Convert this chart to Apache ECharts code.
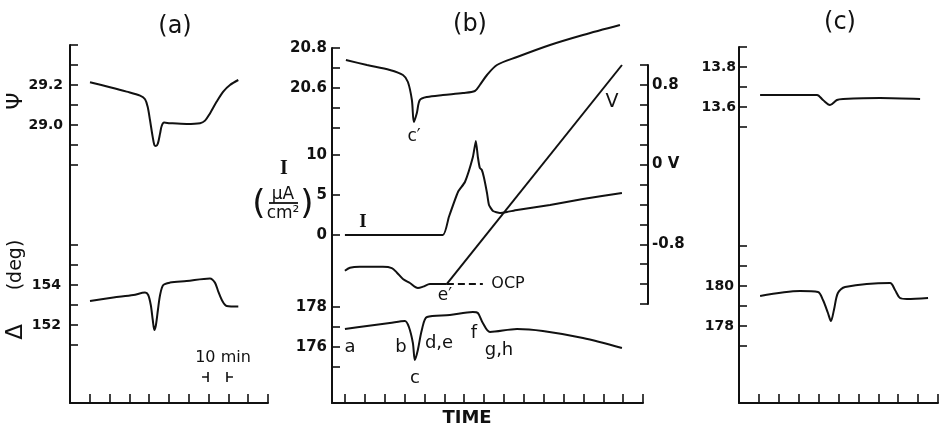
<html>

<head>
  <script src="https://cdn.jsdelivr.net/npm/echarts@6/dist/echarts.min.js"></script>
</head>

<body style="margin:0;background:#fff">
  <div id="main" style="width: 939px;height:428px;"></div>
  <script>
    // time in minutes, one x tick = 10 min
    // (a)
    var aPsiT = [10.1, 20.2, 28.6, 35.4, 37.9, 39.2, 40.4, 41.6, 42.6, 43.4, 44.4, 45.5, 46.3, 47.5, 50.5, 58.9, 65.7, 68.2, 70.7, 74.1, 77.4, 80.8, 85.0];
    var aPsi = [29.214, 29.189, 29.167, 29.147, 29.129, 29.092, 29.025, 28.95, 28.9, 28.895, 28.908, 28.958, 28.995, 29.012, 29.009, 29.005, 29.009, 29.022, 29.058, 29.117, 29.167, 29.2, 29.225];
    var aDelT = [10.1, 21.9, 32.0, 37.9, 39.5, 40.8, 41.8, 42.6, 43.4, 44.4, 45.5, 47.1, 50.5, 58.9, 70.7, 73.2, 74.9, 77.1, 79.1, 85.0];
    var aDel = [153.2, 153.37, 153.5, 153.62, 153.5, 153.0, 152.25, 151.75, 152.0, 152.75, 153.5, 154.0, 154.12, 154.2, 154.33, 154.12, 153.67, 153.17, 152.95, 152.92];
    var aPsiLabels = ['29.2', '29.0'];
    var aDelLabels = ['154', '152'];
    var scaleT = [69.7, 79.3];
    var scaleY = 149.4;

    // (b)
    var bTicks = [0, 10, 20, 30, 40, 50, 60, 70, 80, 90, 100, 110, 120, 130, 140, 150];
    var bPsiT = [0.5, 11.1, 22.6, 29.2, 31.7, 33.7, 34.7, 36.2, 37.7, 41.3, 49.3, 59.4, 65.4, 67.9, 71.5, 76.5, 86.6, 103.2, 119.8, 138.4];
    var bPsi = [20.74, 20.715, 20.69, 20.665, 20.63, 20.54, 20.43, 20.475, 20.54, 20.555, 20.565, 20.575, 20.585, 20.615, 20.665, 20.715, 20.755, 20.815, 20.865, 20.915];
    var bCurT = [0, 49.3, 52.3, 56.9, 60.4, 64.4, 65.9, 66.9, 67.9, 68.9, 69.9, 71.5, 72.5, 74.5, 78.0, 81.5, 86.6, 103.2, 119.8, 139.4];
    var bCur = [0, 0, 2.25, 5.375, 6.625, 9.75, 11.75, 9.75, 8.375, 8.125, 7.25, 5.25, 3.75, 3.0, 2.75, 2.875, 3.125, 3.75, 4.5, 5.25];
    var bOcpT = [0, 2.5, 7.5, 19.1, 23.6, 26.2, 29.2, 32.7, 36.7, 39.3, 42.8, 51.3];
    var bOcp = [-1.066, -1.036, -1.026, -1.026, -1.039, -1.086, -1.149, -1.189, -1.239, -1.226, -1.199, -1.199];
    var bOcpDashT = [51.3, 69.4];
    var bOcpDash = [-1.199, -1.199];
    var bVT = [51.3, 139.4];
    var bV = [-1.199, 1.0];
    var bDelT = [0, 11.1, 22.6, 30.2, 32.2, 34.2, 35.2, 36.7, 38.7, 41.3, 52.8, 64.4, 66.9, 69.4, 73.0, 86.6, 99.6, 119.8, 139.4];
    var bDel = [176.9, 177.05, 177.2, 177.3, 177.0, 176.2, 175.35, 175.85, 176.85, 177.5, 177.6, 177.75, 177.7, 177.2, 176.75, 176.9, 176.8, 176.45, 175.95];
    var bPsiLabels = ['20.8', '20.6'];
    var bCurLabels = ['10', '5', '0'];
    var bVLabels = ['0.8', '0 V', '-0.8'];
    var bDelLabels = ['178', '176'];

    // (c)
    var cPsiT = [10.6, 39.2, 42.2, 45.7, 49.2, 52.3, 70.9, 91.0];
    var cPsi = [13.66, 13.66, 13.635, 13.61, 13.635, 13.64, 13.645, 13.64];
    var cDelT = [10.6, 30.7, 39.7, 42.2, 44.7, 46.2, 47.7, 49.7, 53.3, 75.9, 78.4, 80.9, 84.4, 95.0];
    var cDel = [179.5, 179.75, 179.7, 179.3, 178.65, 178.25, 178.8, 179.65, 179.95, 180.15, 179.8, 179.4, 179.35, 179.4];
    var cPsiLabels = ['13.8', '13.6'];
    var cDelLabels = ['180', '178'];

    var ink = '#111';
    var font = 'DejaVu Sans';
    var grids = [], xAxes = [], yAxes = [], series = [];

    function pickLabel(labels) {
      return function (v) {
        for (var k = 0; k < labels.length; k++) {
          if (Math.abs(parseFloat(labels[k]) - v) < 1e-6) return labels[k];
        }
        return '';
      };
    }

    function frame(box, xr, step, ticks) {
      var i = grids.length;
      grids.push({ left: box[0], top: box[1], width: box[2], height: box[3], containLabel: false, outerBoundsMode: 'none' });
      var tick = { show: true, inside: true, length: 9, lineStyle: { color: ink, width: 1.6 } };
      if (ticks) tick.customValues = ticks;
      xAxes.push({
        type: 'value', gridIndex: i, min: xr[0], max: xr[1], interval: step,
        axisLine: { show: true, onZero: false, lineStyle: { color: ink, width: 2 } },
        axisTick: tick, axisLabel: { show: false }, splitLine: { show: false }
      });
      yAxes.push({
        type: 'value', gridIndex: i, min: 0, max: 1,
        axisLine: { show: true, onZero: false, lineStyle: { color: ink, width: 2 } },
        axisTick: { show: false }, axisLabel: { show: false }, splitLine: { show: false }
      });
      return i;
    }

    function trace(box, xr, yr, step, labels, margin, size, right) {
      var i = grids.length;
      grids.push({ left: box[0], top: box[1], width: box[2], height: box[3], containLabel: false, outerBoundsMode: 'none' });
      xAxes.push({ type: 'value', gridIndex: i, min: xr[0], max: xr[1], show: false });
      yAxes.push({
        type: 'value', gridIndex: i, min: yr[0], max: yr[1], interval: step,
        position: right ? 'right' : 'left',
        axisLine: { show: !!right, onZero: false, lineStyle: { color: ink, width: 2 } },
        axisTick: { show: true, inside: true, length: 8, lineStyle: { color: ink, width: 1.6 } },
        axisLabel: {
          show: true, margin: margin, color: ink, fontFamily: font, fontSize: size, fontWeight: 'bold',
          formatter: pickLabel(labels)
        },
        splitLine: { show: false }
      });
      return i;
    }

    function curve(gi, xs, ys, extra) {
      series.push(Object.assign({
        type: 'line', xAxisIndex: gi, yAxisIndex: gi,
        data: xs.map(function (x, k) { return [x, ys[k]]; }),
        symbol: 'none', smooth: 0.3, clip: false, silent: true,
        lineStyle: { color: ink, width: 2 }
      }, extra || {}));
    }

    // panel (a)
    frame([70, 45, 198, 358], [0, 100], 10);
    var gaPsi = trace([70, 45, 198, 120], [0, 100], [28.8, 29.4], 0.1, aPsiLabels, 7, 14);
    var gaDel = trace([70, 245, 198, 100], [0, 100], [151, 156], 1, aDelLabels, 9, 14);
    curve(gaPsi, aPsiT, aPsi);
    curve(gaDel, aDelT, aDel);
    var thin = { smooth: false, lineStyle: { color: ink, width: 1.6 } };
    curve(gaDel, [scaleT[0] - 3, scaleT[0]], [scaleY, scaleY], thin);
    curve(gaDel, [scaleT[0], scaleT[0]], [scaleY + 0.25, scaleY - 0.25], thin);
    curve(gaDel, [scaleT[1], scaleT[1] + 3], [scaleY, scaleY], thin);
    curve(gaDel, [scaleT[1], scaleT[1]], [scaleY + 0.25, scaleY - 0.25], thin);

    // panel (b)
    frame([332, 48, 311, 355], [-6.5, 150], 10, bTicks);
    var gbPsi = trace([332, 48, 311, 80], [-6.5, 150], [20.4, 20.8], 0.1, bPsiLabels, 5, 15);
    var gbCur = trace([332, 155, 311, 80], [-6.5, 150], [0, 10], 5, bCurLabels, 5, 15);
    var gbV = trace([332, 65, 316, 239], [-6.5, 152.5], [-1.4, 1.0], 0.2, bVLabels, 4, 15, true);
    var gbDel = trace([332, 307, 311, 60], [-6.5, 150], [175, 178], 1, bDelLabels, 5, 15);
    curve(gbPsi, bPsiT, bPsi);
    curve(gbCur, bCurT, bCur, { smooth: 0.15 });
    curve(gbV, bOcpT, bOcp);
    curve(gbV, bOcpDashT, bOcpDash, { smooth: false, lineStyle: { color: ink, width: 1.8, type: [7, 4] } });
    curve(gbV, bVT, bV, { smooth: false });
    curve(gbDel, bDelT, bDel);

    // panel (c)
    frame([739, 47, 199, 356], [0, 100], 10);
    var gcPsi = trace([739, 47, 199, 80], [0, 100], [13.5, 13.9], 0.1, cPsiLabels, 3, 14);
    var gcDel = trace([739, 246, 199, 100], [0, 100], [177, 182], 1, cDelLabels, 5, 14);
    curve(gcPsi, cPsiT, cPsi);
    curve(gcDel, cDelT, cDel);

    function txt(s, x, y, size, rot, fam, weight) {
      var el = {
        type: 'text', x: x, y: y, silent: true,
        style: { text: s, fill: ink, font: (weight || '') + ' ' + size + 'px "' + (fam || font) + '"', align: 'center', verticalAlign: 'middle' }
      };
      if (rot) el.rotation = rot;
      return el;
    }

    var notes = [
      txt('(a)', 175, 27, 24), txt('(b)', 470, 25, 24), txt('(c)', 840, 23, 24),
      txt('Ψ', 16, 101, 22, Math.PI / 2),
      txt('(deg)', 16, 265, 19, Math.PI / 2),
      txt('Δ', 16, 332, 23, Math.PI / 2),
      txt('10 min', 223, 358, 16),
      txt('c′', 414, 137, 17),
      txt('I', 284, 169, 20, 0, 'Liberation Serif', 'bold'),
      txt('(', 259, 205, 34), txt(')', 307, 205, 34),
      txt('μA', 283, 195, 17), txt('cm²', 283, 214, 17),
      { type: 'line', silent: true, shape: { x1: 269, y1: 203, x2: 298, y2: 203 }, style: { stroke: ink, lineWidth: 1.8 } },
      txt('I', 363, 222, 19, 0, 'Liberation Serif', 'bold'),
      txt('V', 612, 102, 19),
      txt('e′', 445, 296, 17),
      txt('OCP', 508, 284, 16),
      txt('a', 350, 347, 18), txt('b', 401, 347, 18), txt('c', 415, 378, 18),
      txt('d,e', 439, 343, 18), txt('f', 474, 333, 18), txt('g,h', 499, 350, 18),
      txt('TIME', 467, 418, 18, 0, font, 'bold')
    ];

    var myChart = echarts.init(document.getElementById('main'));
    option = {
      animation: false,
      backgroundColor: '#fff',
      grid: grids,
      xAxis: xAxes,
      yAxis: yAxes,
      series: series,
      graphic: notes
    };
    myChart.setOption(option);
  </script>
</body>

</html>
